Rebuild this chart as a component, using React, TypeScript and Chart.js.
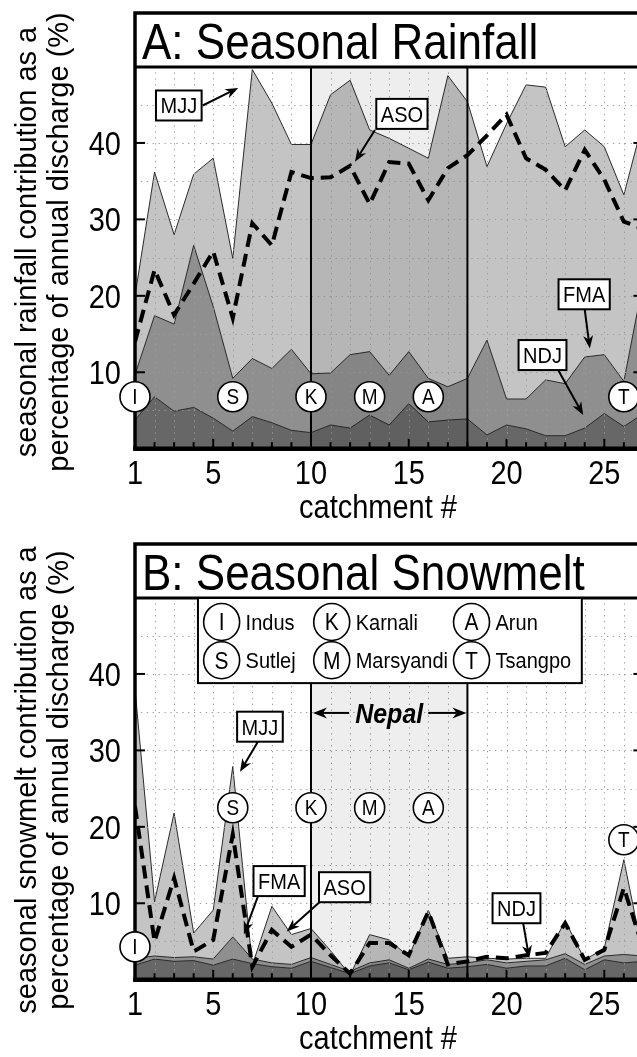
import React, { useEffect, useRef } from 'react';
import { Chart, registerables } from 'chart.js';

Chart.register(...registerables);

// ---------------- data ----------------
const catchments = [1, 2, 3, 4, 5, 6, 7, 8, 9, 10, 11, 12, 13, 14, 15, 16, 17, 18, 19, 20, 21, 22, 23, 24, 25, 26, 27];
const xTickValues = [1, 5, 10, 15, 20, 25];
const yTickValues = [10, 20, 30, 40];
const gridYValues = [5, 10, 15, 20, 25, 30, 35, 40, 45];
const nepalRange = [10, 18];

// Panel A: seasonal rainfall contribution (%)
const rainMJJ = [20, 36.2, 28.0, 35.9, 38.0, 24.9, 49.6, 45.2, 39.8, 39.8, 46.3, 48.2, 41.7, 40.6, 39.3, 38.0, 48.8, 45.4, 36.9, 42.5, 47.6, 47.3, 39.5, 41.7, 39.5, 33.2, 43.0];
const rainFMA = [9.7, 17.4, 16.3, 26.6, 18.6, 9.2, 11.8, 10.5, 13.0, 9.8, 9.9, 12.3, 12.7, 9.6, 12.7, 9.2, 8.1, 9.2, 14.2, 6.5, 6.5, 9.0, 8.5, 12.0, 12.3, 8.8, 22.0];
const rainNDJ = [3.75, 6.8, 4.9, 5.4, 4.0, 2.3, 4.2, 3.4, 2.4, 2.1, 3.1, 2.7, 4.4, 3.1, 5.9, 3.5, 3.75, 3.9, 1.8, 3.1, 2.6, 1.7, 1.7, 2.7, 4.6, 2.9, 4.6];
const rainASO = [14.0, 23.4, 17.5, 21.6, 25.8, 17.1, 29.5, 26.6, 36.2, 35.4, 35.5, 37.0, 32.0, 37.5, 37.3, 32.5, 36.7, 38.4, 41.0, 43.7, 38.0, 36.5, 33.8, 39.1, 35.2, 29.7, 28.8];

// Panel B: seasonal snowmelt contribution (%)
const snowMJJ = [38.0, 10.2, 21.8, 6.1, 9.1, 27.9, 1.9, 9.6, 5.9, 6.7, 3.8, 0.6, 5.9, 5.2, 3.0, 9.1, 2.8, 3.0, 2.8, 2.7, 2.8, 2.8, 7.7, 2.6, 4.1, 15.7, 3.0];
const snowFMA = [2.8, 3.1, 2.9, 3.0, 2.7, 5.6, 2.7, 2.2, 2.0, 2.9, 2.0, 1.1, 2.2, 2.6, 1.5, 2.7, 2.0, 2.2, 2.6, 2.2, 2.4, 2.6, 3.4, 2.0, 3.1, 3.3, 3.1];
const snowNDJ = [1.9, 2.7, 2.4, 2.5, 1.9, 2.7, 2.1, 1.7, 1.5, 2.4, 1.6, 0.8, 1.8, 2.2, 1.3, 2.3, 1.5, 1.7, 2.0, 1.5, 1.8, 1.8, 2.8, 1.3, 2.6, 2.2, 2.4];
const snowASO = [22.7, 5.0, 13.3, 3.7, 5.2, 19.0, 1.7, 6.5, 4.3, 5.9, 3.2, 0.8, 4.8, 4.8, 3.2, 8.9, 2.0, 2.4, 3.0, 2.8, 3.2, 3.5, 7.4, 2.6, 3.9, 12.0, 4.0];

// Named catchments
const siteCatchments = [1, 6, 10, 13, 16, 26];
const siteLetters = ['I', 'S', 'K', 'M', 'A', 'T'];
const siteNames = ['Indus', 'Sutlej', 'Karnali', 'Marsyandi', 'Arun', 'Tsangpo'];
const rainSiteLevels = [6.8, 6.8, 6.8, 6.8, 6.8, 6.8];
const snowSiteLevels = [4.3, 22.5, 22.5, 22.5, 22.5, 18.3];

// ---------------- styling / layout ----------------
const FONT = '"Liberation Sans", Arial, Helvetica, sans-serif';
const STRETCH = 1.13; // text looks vertically stretched in the reference
const CANVAS_W = 660;
const PLOT_LEFT = 135;
const PLOT_RIGHT = 643.6;
const PLOT_TOP = 66.5;
const PLOT_BOTTOM = 448.7;
const FRAME_TOP = 13;

type Note = { text: string; box: [number, number]; from: [number, number]; to: [number, number] };

const rainNotes: Note[] = [
  { text: 'MJJ', box: [3.24, 44.9], from: [4.46, 44.9], to: [6.28, 47.2] },
  { text: 'ASO', box: [14.65, 43.8], from: [13.27, 41.7], to: [12.25, 37.55] },
  { text: 'FMA', box: [23.97, 20.2], from: [24.0, 18.2], to: [24.26, 13.1] },
  { text: 'NDJ', box: [21.84, 12.25], from: [22.64, 10.3], to: [23.92, 4.4] },
];
const snowNotes: Note[] = [
  { text: 'MJJ', box: [7.39, 33.1], from: [7.3, 31.2], to: [6.37, 27.2] },
  { text: 'FMA', box: [8.37, 12.9], from: [7.3, 11.0], to: [6.57, 5.95] },
  { text: 'ASO', box: [11.72, 12.1], from: [10.46, 10.2], to: [8.76, 6.3] },
  { text: 'NDJ', box: [20.51, 9.35], from: [20.85, 7.4], to: [21.16, 2.8] },
];

type PanelSpec = {
  key: string;
  title: string;
  yTitle: [string, string];
  yTitleCenter: number;
  mjj: number[];
  fma: number[];
  ndj: number[];
  aso: number[];
  siteLevels: number[];
  notes: Note[];
  showLegend: boolean;
  height: number;
  top: number;
};

const panels: PanelSpec[] = [
  {
    key: 'A',
    title: 'A: Seasonal Rainfall',
    yTitle: ['seasonal rainfall contribution as a', 'percentage of annual discharge (%)'],
    yTitleCenter: 242,
    mjj: rainMJJ, fma: rainFMA, ndj: rainNDJ, aso: rainASO,
    siteLevels: rainSiteLevels,
    notes: rainNotes,
    showLegend: false,
    height: 531,
    top: 0,
  },
  {
    key: 'B',
    title: 'B: Seasonal Snowmelt',
    yTitle: ['seasonal snowmelt contribution as a', 'percentage of annual discharge (%)'],
    yTitleCenter: 249,
    mjj: snowMJJ, fma: snowFMA, ndj: snowNDJ, aso: snowASO,
    siteLevels: snowSiteLevels,
    notes: snowNotes,
    showLegend: true,
    height: 526,
    top: 531,
  },
];

function txt(ctx: CanvasRenderingContext2D, s: string, x: number, y: number) {
  ctx.save();
  ctx.translate(x, y);
  ctx.scale(1, STRETCH);
  ctx.fillText(s, 0, 0);
  ctx.restore();
}

function drawArrow(ctx: CanvasRenderingContext2D, x1: number, y1: number, x2: number, y2: number, head = 13, width = 10) {
  const ang = Math.atan2(y2 - y1, x2 - x1);
  const c = Math.cos(ang), s = Math.sin(ang);
  const bx = x2 - head * c, by = y2 - head * s;
  const nx = x2 - head * 0.7 * c, ny = y2 - head * 0.7 * s;
  ctx.beginPath();
  ctx.moveTo(x1, y1);
  ctx.lineTo(nx, ny);
  ctx.stroke();
  ctx.beginPath();
  ctx.moveTo(x2, y2);
  ctx.lineTo(bx + (width / 2) * s, by - (width / 2) * c);
  ctx.lineTo(nx, ny);
  ctx.lineTo(bx - (width / 2) * s, by + (width / 2) * c);
  ctx.closePath();
  ctx.fill();
}

function makeDecor(p: PanelSpec) {
  return {
    id: 'decor' + p.key,
    afterDatasetDraw(chart: any, args: any) {
      if (args.index !== 2) return;
      const ctx: CanvasRenderingContext2D = chart.ctx;
      const { left, right, top, bottom } = chart.chartArea;
      const xs = chart.scales.x, ys = chart.scales.y;
      const px = (v: number) => xs.getPixelForValue(v);
      const py = (v: number) => ys.getPixelForValue(v);
      ctx.save();
      // dotted grid
      ctx.strokeStyle = '#9c9c9c';
      ctx.lineWidth = 1;
      ctx.setLineDash([1.3, 4.6]);
      catchments.forEach((c) => {
        if (c === catchments[0] || nepalRange.includes(c)) return;
        const x = Math.round(px(c)) + 0.5;
        ctx.beginPath(); ctx.moveTo(x, top); ctx.lineTo(x, bottom); ctx.stroke();
      });
      gridYValues.forEach((v) => {
        const y = Math.round(py(v)) + 0.5;
        ctx.beginPath(); ctx.moveTo(left, y); ctx.lineTo(right, y); ctx.stroke();
      });
      ctx.setLineDash([]);
      // Nepal band
      const n0 = px(nepalRange[0]);
      const n1 = px(nepalRange[1]);
      ctx.fillStyle = 'rgba(0,0,0,0.065)';
      ctx.fillRect(n0, top, n1 - n0, bottom - top);
      ctx.strokeStyle = '#000';
      ctx.lineWidth = 2;
      [n0, n1].forEach((x) => {
        ctx.beginPath(); ctx.moveTo(x, top); ctx.lineTo(x, bottom); ctx.stroke();
      });

      // ticks (inward)
      ctx.lineWidth = 2;
      yTickValues.forEach((v) => {
        const y = py(v);
        ctx.beginPath(); ctx.moveTo(left, y); ctx.lineTo(left + 10, y); ctx.stroke();
        ctx.beginPath(); ctx.moveTo(right, y); ctx.lineTo(right - 10, y); ctx.stroke();
      });
      catchments.forEach((c) => {
        const x = px(c);
        const len = xTickValues.includes(c) ? 10 : 6.5;
        ctx.beginPath(); ctx.moveTo(x, bottom); ctx.lineTo(x, bottom - len); ctx.stroke();
      });

      // frame
      ctx.lineWidth = 3.5;
      ctx.beginPath();
      ctx.moveTo(left, bottom + 2);
      ctx.lineTo(left, FRAME_TOP);
      ctx.lineTo(right, FRAME_TOP);
      ctx.lineTo(right, bottom + 2);
      ctx.stroke();
      ctx.lineWidth = 3;
      ctx.beginPath(); ctx.moveTo(left, top + 0.5); ctx.lineTo(right, top + 0.5); ctx.stroke();
      ctx.lineWidth = 4.5;
      ctx.beginPath(); ctx.moveTo(left - 1.7, bottom); ctx.lineTo(right + 1.7, bottom); ctx.stroke();
      ctx.restore();
    },
    afterDatasetsDraw(chart: any) {
      const ctx: CanvasRenderingContext2D = chart.ctx;
      const { left, top, bottom } = chart.chartArea;
      const xs = chart.scales.x, ys = chart.scales.y;
      const px = (v: number) => xs.getPixelForValue(v);
      const py = (v: number) => ys.getPixelForValue(v);
      ctx.save();
      ctx.fillStyle = '#000';
      ctx.strokeStyle = '#000';

      // letters in site markers
      ctx.font = `19px ${FONT}`;
      ctx.textAlign = 'center';
      ctx.textBaseline = 'alphabetic';
      siteCatchments.forEach((c, i) => {
        txt(ctx, siteLetters[i], px(c), py(p.siteLevels[i]) + 7.6);
      });

      // title
      ctx.font = `44px ${FONT}`;
      ctx.textAlign = 'left';
      txt(ctx, p.title, left + 7, FRAME_TOP + 45.5);

      // tick labels
      ctx.font = `29px ${FONT}`;
      ctx.textAlign = 'right';
      yTickValues.forEach((v) => txt(ctx, String(v), left - 14, py(v) + 11.7));
      ctx.textAlign = 'center';
      xTickValues.forEach((v) => txt(ctx, String(v), px(v), bottom + 35.5));
      txt(ctx, 'catchment #', left + 243, bottom + 69);

      // y axis title (two lines)
      ctx.save();
      ctx.translate(36, p.yTitleCenter);
      ctx.rotate(-Math.PI / 2);
      ctx.textAlign = 'center';
      ctx.fillText(p.yTitle[0], 0, 0);
      ctx.restore();
      ctx.save();
      ctx.translate(68, p.yTitleCenter);
      ctx.rotate(-Math.PI / 2);
      ctx.textAlign = 'center';
      ctx.fillText(p.yTitle[1], 0, 0);
      ctx.restore();

      // annotation boxes with arrows
      ctx.font = `20px ${FONT}`;
      p.notes.forEach((n) => {
        ctx.lineWidth = 2;
        drawArrow(ctx, px(n.from[0]), py(n.from[1]), px(n.to[0]), py(n.to[1]));
        const cx = px(n.box[0]), cy = py(n.box[1]);
        const w = ctx.measureText(n.text).width + 9;
        const h = 30;
        ctx.fillStyle = '#fff';
        ctx.fillRect(cx - w / 2, cy - h / 2, w, h);
        ctx.strokeRect(cx - w / 2, cy - h / 2, w, h);
        ctx.fillStyle = '#000';
        ctx.textAlign = 'center';
        txt(ctx, n.text, cx, cy + 8);
      });

      if (p.showLegend) {
        // Nepal label with arrows
        const ny = py(34.9);
        const nc = px((nepalRange[0] + nepalRange[1]) / 2);
        ctx.font = `italic bold 25px ${FONT}`;
        const tw = ctx.measureText('Nepal').width;
        ctx.textAlign = 'center';
        txt(ctx, 'Nepal', nc, ny + 10);
        ctx.lineWidth = 2;
        drawArrow(ctx, nc - tw / 2 - 6, ny, px(nepalRange[0]) + 2, ny, 14, 11);
        drawArrow(ctx, nc + tw / 2 + 5, ny, px(nepalRange[1]) - 1, ny, 14, 11);

        // legend box
        const lx0 = px(4.22), lx1 = px(23.85);
        const ly0 = top + 0.5, ly1 = py(38.8);
        ctx.fillStyle = '#fff';
        ctx.fillRect(lx0, ly0, lx1 - lx0, ly1 - ly0);
        ctx.lineWidth = 2;
        ctx.strokeRect(lx0, ly0, lx1 - lx0, ly1 - ly0);
        const colX = [5.43, 11.06, 18.21];
        const rowY = [46.8, 41.8];
        siteLetters.forEach((L, i) => {
          const cx = px(colX[Math.floor(i / 2)]);
          const cy = py(rowY[i % 2]);
          ctx.beginPath();
          ctx.ellipse(cx, cy, 18, 18.5, 0, 0, Math.PI * 2);
          ctx.fillStyle = '#fff';
          ctx.fill();
          ctx.lineWidth = 1.6;
          ctx.stroke();
          ctx.fillStyle = '#000';
          ctx.font = `21px ${FONT}`;
          ctx.textAlign = 'center';
          txt(ctx, L, cx, cy + 8.5);
          ctx.font = `20px ${FONT}`;
          ctx.textAlign = 'left';
          txt(ctx, siteNames[i], cx + 24, cy + 8.2);
        });
      }
      ctx.restore();
    },
  };
}

function Panel({ spec }: { spec: PanelSpec }) {
  const ref = useRef<HTMLCanvasElement>(null);
  useEffect(() => {
    const pts = (vals: number[]) => catchments.map((c, i) => ({ x: c, y: vals[i] }));
    const area = (vals: number[], color: string, order: number) => ({
      data: pts(vals),
      fill: 'origin',
      backgroundColor: color,
      borderColor: '#2b2b2b',
      borderWidth: 1,
      pointRadius: 0,
      tension: 0,
      order,
    });
    const chart = new Chart(ref.current as HTMLCanvasElement, {
      type: 'line',
      data: {
        datasets: [
          area(spec.mjj, '#c4c4c4', 4) as any,
          area(spec.fma, '#8f8f8f', 3) as any,
          area(spec.ndj, '#676767', 2) as any,
          {
            data: pts(spec.aso),
            fill: false,
            borderColor: '#000',
            borderWidth: 4,
            borderDash: [13, 7],
            pointRadius: 0,
            tension: 0,
            order: 1,
          },
          {
            data: siteCatchments.map((c, i) => ({ x: c, y: spec.siteLevels[i] })),
            showLine: false,
            pointRadius: 15,
            pointBackgroundColor: '#fff',
            pointBorderColor: '#000',
            pointBorderWidth: 1.6,
            clip: false,
            order: 0,
          } as any,
        ],
      },
      options: {
        animation: false,
        responsive: false,
        devicePixelRatio: 1,
        events: [],
        layout: {
          padding: {
            left: PLOT_LEFT,
            right: CANVAS_W - PLOT_RIGHT,
            top: PLOT_TOP,
            bottom: spec.height - PLOT_BOTTOM,
          },
        },
        scales: {
          x: { type: 'linear', min: catchments[0], max: catchments[catchments.length - 1], display: false },
          y: { type: 'linear', min: 0, max: 50, display: false },
        },
        plugins: { legend: { display: false }, tooltip: { enabled: false } },
      },
      plugins: [makeDecor(spec)],
    });
    return () => chart.destroy();
  }, [spec]);
  return (
    <canvas
      ref={ref}
      width={CANVAS_W}
      height={spec.height}
      style={{ position: 'absolute', left: 0, top: spec.top, width: CANVAS_W, height: spec.height, display: 'block' }}
    />
  );
}

export default function App() {
  return (
    <div style={{ position: 'absolute', left: 0, top: 0, width: 637, height: 1057, overflow: 'hidden', background: '#fff' }}>
      {panels.map((p) => (
        <Panel key={p.key} spec={p} />
      ))}
    </div>
  );
}
